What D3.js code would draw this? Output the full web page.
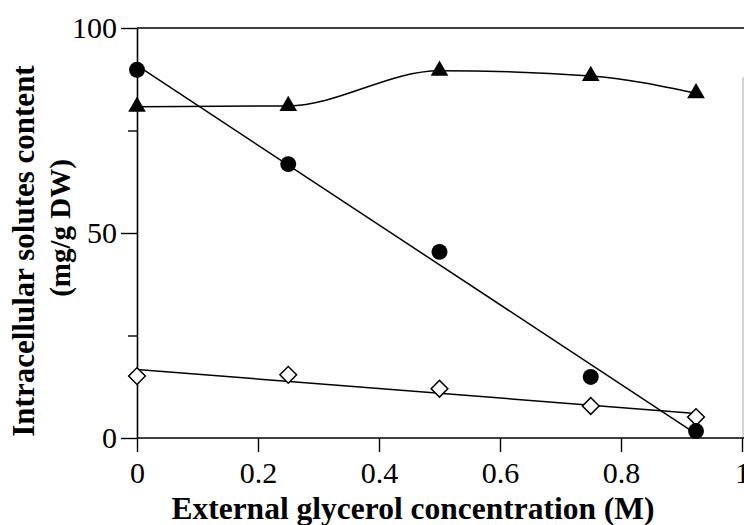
<!DOCTYPE html>
<html>
<head>
<meta charset="utf-8">
<script src="https://cdn.jsdelivr.net/npm/d3@7"></script>
<style>
  html, body { margin: 0; padding: 0; background: #fff; }
  svg { display: block; }
  text { font-family: "Liberation Serif", "Times New Roman", serif; fill: #000; }
</style>
</head>
<body>
<svg id="chart" width="744" height="525"></svg>
<script>
// ---- Data ----
const concentrations = [0, 0.25, 0.5, 0.75, 0.924];
const glycerolValues = [89.8, 66.8, 45.4, 14.9, 1.7];   // filled circles
const arabitolValues = [80.8, 81.0, 89.6, 88.3, 84.1];   // filled triangles
const otherValues    = [15.1, 15.4, 12.0, 7.8, 5.1];     // open diamonds
const xTicks = [0, 0.2, 0.4, 0.6, 0.8, 1];
const xTickLabels = ["0", "0.2", "0.4", "0.6", "0.8", "1"];
const yMajorTicks = [0, 50, 100];
const yMinorTicks = [25, 75];
const xTitle = "External glycerol concentration (M)";
const yTitleLines = ["Intracellular solutes content", "(mg/g DW)"];

const svg = d3.select("#chart");
const x = d3.scaleLinear().domain([0, 1]).range([137, 742]);
const y = d3.scaleLinear().domain([0, 100]).range([438, 28]);

// frame (top and right)
svg.append("line").attr("x1", x(0)).attr("x2", 744).attr("y1", y(100)).attr("y2", y(100))
  .attr("stroke", "#000").attr("stroke-width", 1.6);
svg.append("line").attr("x1", 743).attr("x2", 743).attr("y1", y(88)).attr("y2", y(0))
  .attr("stroke", "#aaa").attr("stroke-width", 1);

// x axis
const xAxis = d3.axisBottom(x).tickValues(xTicks)
  .tickFormat((d, i) => xTickLabels[i]).tickSizeInner(14).tickSizeOuter(0).tickPadding(10);
const gx = svg.append("g").attr("transform", `translate(0,${y(0)})`).call(xAxis);
gx.select(".domain").attr("stroke-width", 1.6).attr("d", `M${x(0)},0H744`);
gx.selectAll(".tick line").attr("stroke-width", 1.4);
gx.selectAll(".tick text").attr("font-size", 30).attr("font-family", "Liberation Serif");

// y axis
const yAxis = d3.axisLeft(y).tickValues(yMajorTicks)
  .tickSizeInner(16).tickSizeOuter(0).tickPadding(4);
const gy = svg.append("g").attr("transform", `translate(${x(0)},0)`).call(yAxis);
gy.select(".domain").attr("stroke-width", 1.6);
gy.selectAll(".tick line").attr("stroke-width", 1.4);
gy.selectAll(".tick text").attr("font-size", 30).attr("font-family", "Liberation Serif");
const yMinor = d3.axisLeft(y).tickValues(yMinorTicks).tickSizeInner(9).tickSizeOuter(0).tickFormat("");
const gym = svg.append("g").attr("transform", `translate(${x(0)},0)`).call(yMinor);
gym.select(".domain").remove();
gym.selectAll(".tick line").attr("stroke-width", 1.4);

// titles
svg.append("text").attr("x", 413).attr("y", 519).attr("text-anchor", "middle")
  .attr("font-size", 31.5).attr("font-weight", "bold").text(xTitle);
svg.append("text").attr("transform", "translate(34,251) rotate(-90)").attr("text-anchor", "middle")
  .attr("font-size", 31).attr("font-weight", "bold").text(yTitleLines[0]);
svg.append("text").attr("transform", "translate(70,228) rotate(-90)").attr("text-anchor", "middle")
  .attr("font-size", 29).attr("font-weight", "bold").text(yTitleLines[1]);

// linear regression helper
function fit(xs, ys) {
  const mx = d3.mean(xs), my = d3.mean(ys);
  let sxy = 0, sxx = 0;
  xs.forEach((v, i) => { sxy += (v - mx) * (ys[i] - my); sxx += (v - mx) * (v - mx); });
  const b = sxy / sxx, a = my - b * mx;
  return v => a + b * v;
}

const line = d3.line().x(d => x(d[0])).y(d => y(d[1]));
const x0 = concentrations[0], x1 = concentrations[concentrations.length - 1];

// circles regression line
const fc = fit(concentrations, glycerolValues);
svg.append("path").attr("d", line([[x0, fc(x0)], [x1, fc(x1)]]))
  .attr("fill", "none").attr("stroke", "#000").attr("stroke-width", 1.5);
// diamonds regression line
const fd = fit(concentrations, otherValues);
svg.append("path").attr("d", line([[x0, fd(x0)], [x1, fd(x1)]]))
  .attr("fill", "none").attr("stroke", "#000").attr("stroke-width", 1.5);
// triangles smooth curve
const triPts = concentrations.map((c, i) => [c, arabitolValues[i]]);
svg.append("path").attr("d", d3.line().x(d => x(d[0])).y(d => y(d[1])).curve(d3.curveMonotoneX)(triPts))
  .attr("fill", "none").attr("stroke", "#000").attr("stroke-width", 1.5);

// markers
const circSym = d3.symbol(d3.symbolCircle, 200);
const triSym = d3.symbol(d3.symbolTriangle, 135);
const diaSym = d3.symbol(d3.symbolSquare, 140);

svg.append("g").selectAll("path").data(concentrations).join("path")
  .attr("transform", (d, i) => `translate(${x(d)},${y(otherValues[i])}) rotate(45)`)
  .attr("d", diaSym).attr("fill", "#fff").attr("stroke", "#000").attr("stroke-width", 1.5);
svg.append("g").selectAll("path").data(concentrations).join("path")
  .attr("transform", (d, i) => `translate(${x(d)},${y(glycerolValues[i])})`)
  .attr("d", circSym).attr("fill", "#000");
svg.append("g").selectAll("path").data(concentrations).join("path")
  .attr("transform", (d, i) => `translate(${x(d)},${y(arabitolValues[i])})`)
  .attr("d", triSym).attr("fill", "#000");
</script>
</body>
</html>
